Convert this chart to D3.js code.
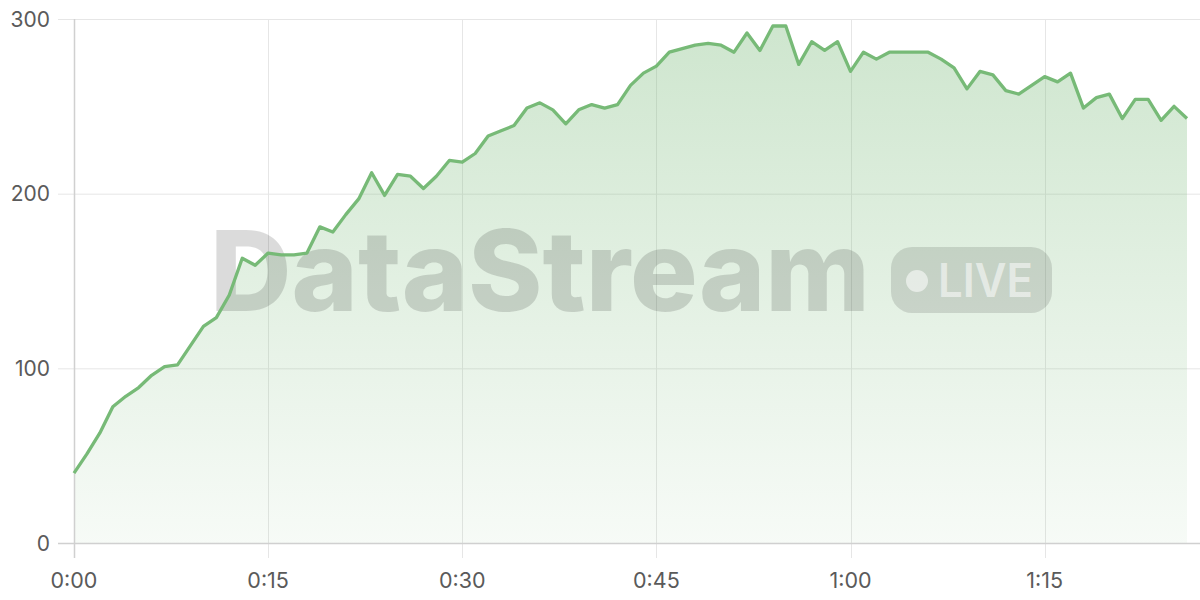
<!DOCTYPE html>
<html>
<head>
<meta charset="utf-8">
<script src="https://cdn.jsdelivr.net/npm/d3@7/dist/d3.min.js"></script>
<style>
  html, body { margin: 0; padding: 0; background: #fff; }
  svg { display: block; font-family: Inter, "Noto Sans", sans-serif; }
</style>
</head>
<body>
<svg id="chart" width="1200" height="600"></svg>
<script>
// minutes since start
const minutes = d3.range(0, 87);
const values = [
  40, 51, 63, 78, 84, 89, 96, 101, 102, 113,
  124, 129, 142, 163, 159, 166, 165, 165, 166, 181,
  178, 188, 197, 212, 199, 211, 210, 203, 210, 219,
  218, 223, 233, 236, 239, 249, 252, 248, 240, 248,
  251, 249, 251, 262, 269, 273, 281, 283, 285, 286,
  285, 281, 292, 282, 296, 296, 274, 287, 282, 287,
  270, 281, 277, 281, 281, 281, 281, 277, 272, 260,
  270, 268, 259, 257, 262, 267, 264, 269, 249, 255,
  257, 243, 254, 254, 242, 250, 243
];
const xTicks = [0, 15, 30, 45, 60, 75];
const yTicks = [0, 100, 200, 300];
const watermarkText = "DataStream";
const badgeText = "LIVE";

const data = minutes.map((m, i) => ({ m, v: values[i] }));

const W = 1200, H = 600;
const pLeft = 74, pRight = 1187, pTop = 19, pBottom = 543;

const svg = d3.select("#chart");
const x = d3.scaleLinear().domain([0, 86]).range([pLeft, pRight]);
const y = d3.scaleLinear().domain([0, 300]).range([pBottom, pTop]);

const fmt = m => `${Math.floor(m / 60)}:${String(m % 60).padStart(2, "0")}`;

// gradient
const defs = svg.append("defs");
const grad = defs.append("linearGradient")
  .attr("id", "areaGrad").attr("gradientUnits", "userSpaceOnUse")
  .attr("x1", 0).attr("x2", 0).attr("y1", y(300)).attr("y2", y(0));
grad.append("stop").attr("offset", "0%").attr("stop-color", "#76b876").attr("stop-opacity", 0.36);
grad.append("stop").attr("offset", "100%").attr("stop-color", "#76b876").attr("stop-opacity", 0.06);

// horizontal grid
svg.append("g").selectAll("line").data(yTicks.filter(t => t > 0)).join("line")
  .attr("x1", pLeft - 16).attr("x2", W)
  .attr("y1", d => y(d) + 0.5).attr("y2", d => y(d) + 0.5)
  .attr("stroke", "#e6e6e6").attr("stroke-width", 1);

// vertical grid
svg.append("g").selectAll("line").data(xTicks.filter(t => t > 0)).join("line")
  .attr("x1", d => Math.round(x(d)) + 0.5).attr("x2", d => Math.round(x(d)) + 0.5)
  .attr("y1", pTop).attr("y2", pBottom + 15)
  .attr("stroke", "#e6e6e6").attr("stroke-width", 1);

// area
const area = d3.area().x(d => x(d.m)).y0(y(0)).y1(d => y(d.v));
svg.append("path").datum(data).attr("d", area).attr("fill", "url(#areaGrad)");

// axes lines
svg.append("line")
  .attr("x1", pLeft - 16).attr("x2", W)
  .attr("y1", y(0) + 0.5).attr("y2", y(0) + 0.5)
  .attr("stroke", "#d0d0d0").attr("stroke-width", 1.5);
svg.append("line")
  .attr("x1", pLeft + 0.5).attr("x2", pLeft + 0.5)
  .attr("y1", pTop).attr("y2", pBottom + 15)
  .attr("stroke", "#d0d0d0").attr("stroke-width", 1.5);

// watermark
const wm = svg.append("g");
wm.append("text")
  .attr("x", 210).attr("y", 311)
  .attr("font-size", 112).attr("font-weight", 800)
  .attr("textLength", 660).attr("lengthAdjust", "spacingAndGlyphs")
  .attr("fill", "#000").attr("fill-opacity", 0.14)
  .text(watermarkText);
wm.append("rect")
  .attr("x", 891).attr("y", 247).attr("width", 161).attr("height", 66).attr("rx", 21)
  .attr("fill", "#000").attr("fill-opacity", 0.12);
wm.append("circle")
  .attr("cx", 917).attr("cy", 281).attr("r", 11)
  .attr("fill", "#fff").attr("fill-opacity", 0.55);
wm.append("text")
  .attr("x", 938).attr("y", 297)
  .attr("font-size", 46).attr("font-weight", 600)
  .attr("textLength", 95).attr("lengthAdjust", "spacingAndGlyphs")
  .attr("fill", "#fff").attr("fill-opacity", 0.55)
  .text(badgeText);

// line
const line = d3.line().x(d => x(d.m)).y(d => y(d.v));
svg.append("path").datum(data).attr("d", line)
  .attr("fill", "none").attr("stroke", "#77ba77").attr("stroke-width", 3.3)
  .attr("stroke-linejoin", "round");

// y labels
svg.append("g").selectAll("text").data(yTicks).join("text")
  .attr("x", 50).attr("y", d => y(d) + 7.5)
  .attr("text-anchor", "end").attr("font-size", 21).attr("fill", "#5a5a5a")
  .text(d => d);

// x labels
svg.append("g").selectAll("text").data(xTicks).join("text")
  .attr("x", d => x(d)).attr("y", 588)
  .attr("text-anchor", "middle").attr("font-size", 21.5).attr("fill", "#5a5a5a")
  .text(d => fmt(d));
</script>
</body>
</html>
